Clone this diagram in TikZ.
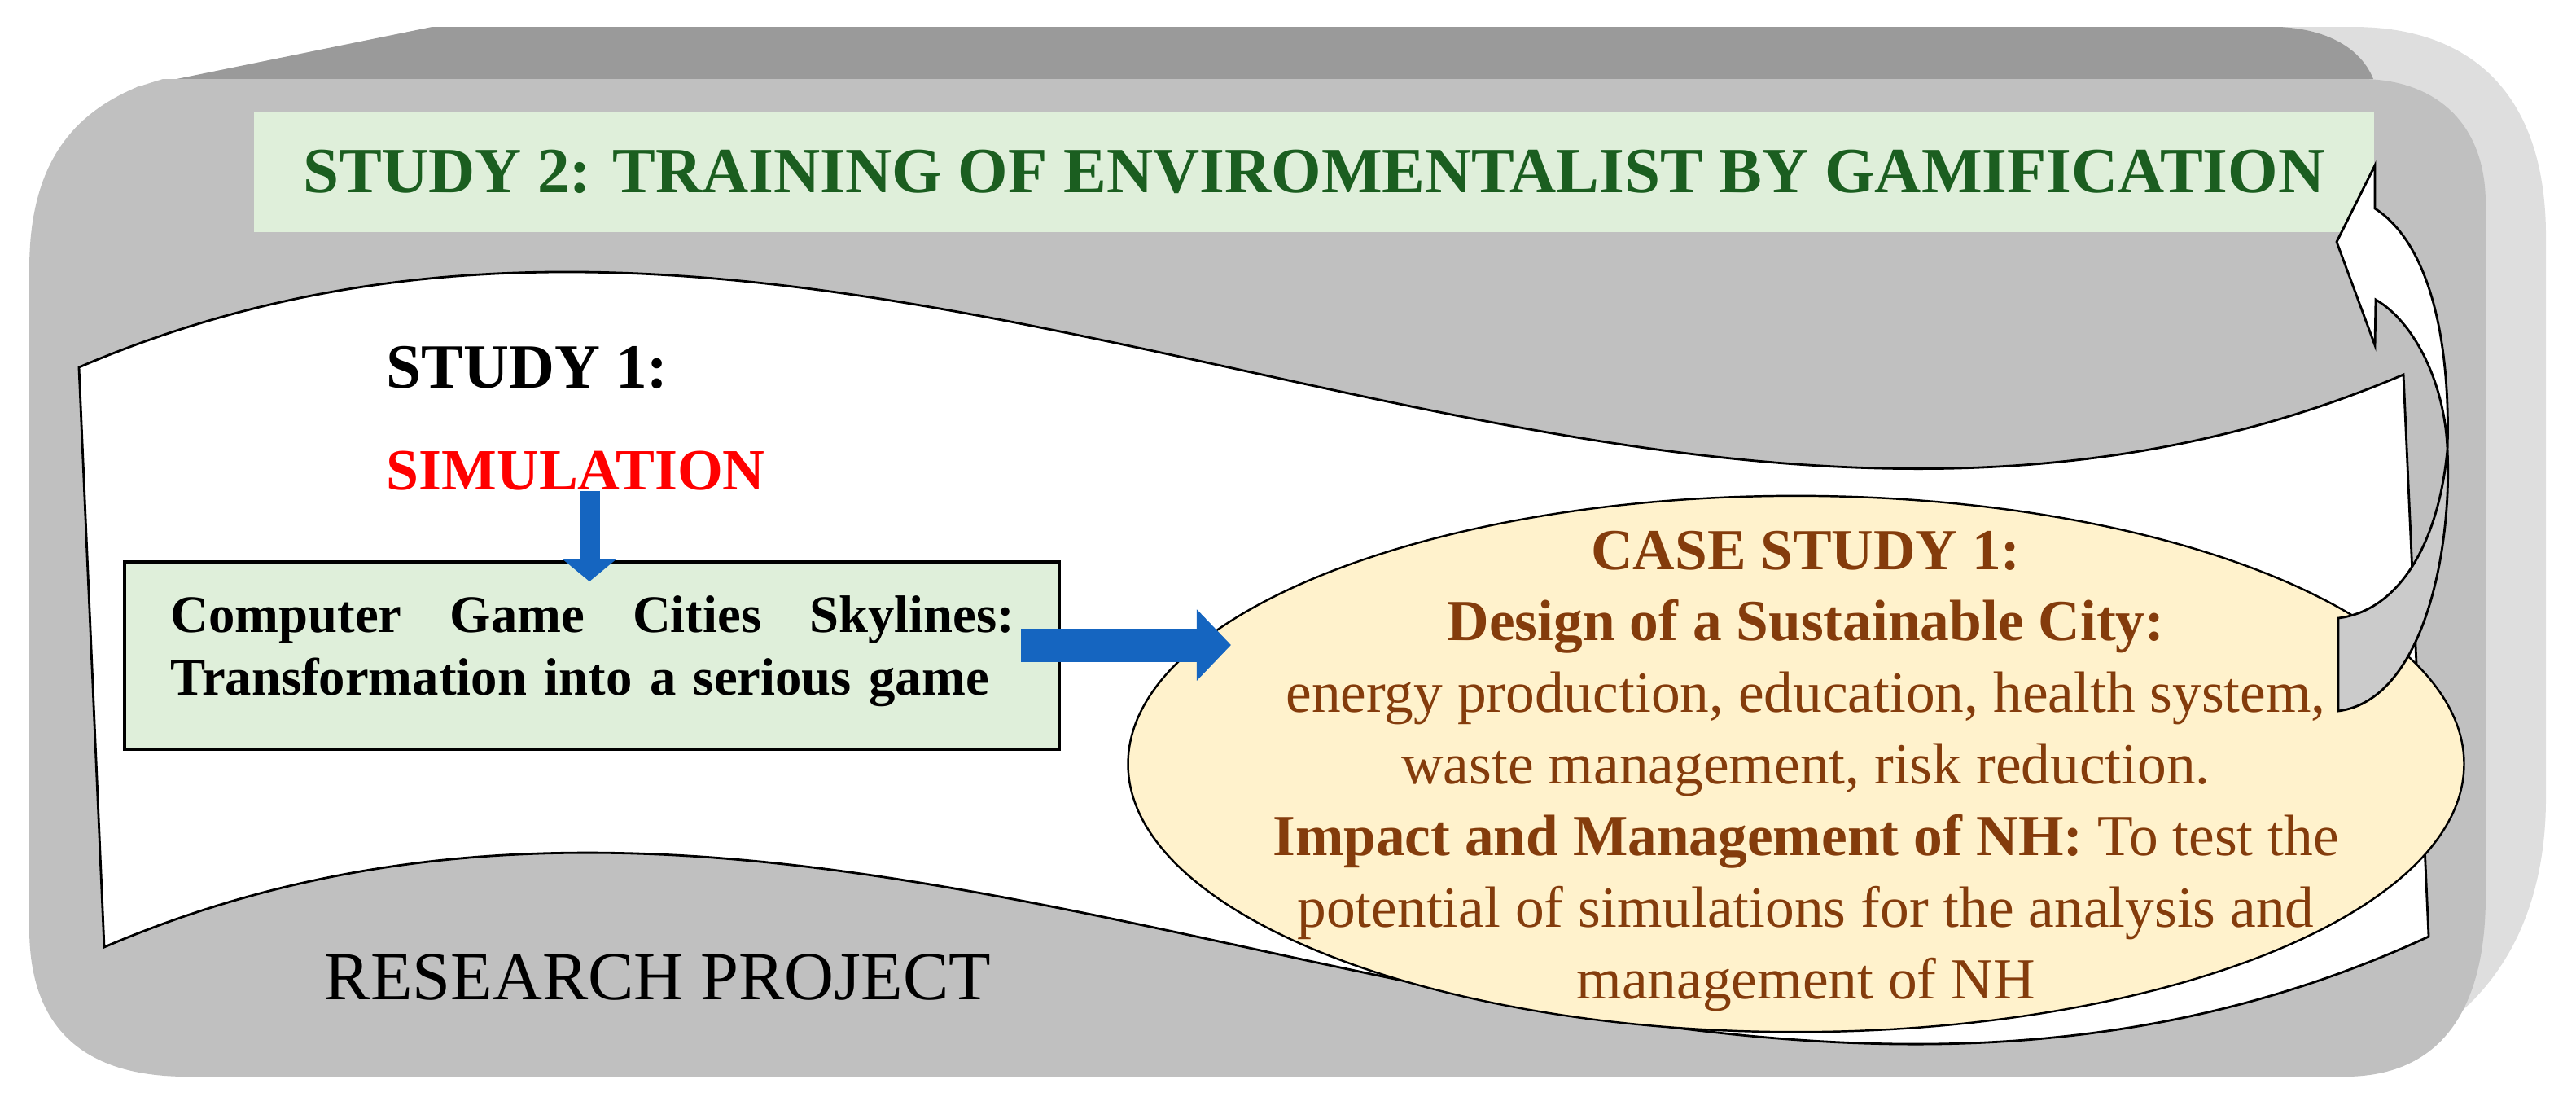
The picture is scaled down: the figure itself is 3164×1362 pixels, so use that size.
\documentclass[tikz,border=0pt]{standalone}
\usepackage{fontspec}
\setmainfont{Liberation Serif}
\usetikzlibrary{positioning,arrows.meta,shapes.geometric}

\definecolor{bodygray}{HTML}{C0C0C0}
\definecolor{topgray}{HTML}{9A9A9A}
\definecolor{sidegray}{HTML}{DEDEDE}
\definecolor{backband}{HTML}{CBCBCB}
\definecolor{bandgreen}{HTML}{DFEFDA}
\definecolor{titlegreen}{HTML}{1B5E20}
\definecolor{casefill}{HTML}{FFF2CC}
\definecolor{casebrown}{HTML}{843C0C}
\definecolor{arrowblue}{HTML}{1565C0}
\definecolor{simred}{HTML}{FF0000}

\begin{document}
\begin{tikzpicture}[x=0.01cm,y=-0.01cm,
    outline/.style={draw=black,line width=0.8pt},
    titleband/.style={fill=bandgreen,minimum width=26.03cm,minimum height=1.47cm,inner sep=0pt,
      text=titlegreen,font=\fontsize{22.5}{27}\selectfont\bfseries},
    gamebox/.style={draw=black,line width=1.1pt,fill=bandgreen,minimum width=11.48cm,
      minimum height=2.30cm,inner sep=0pt},
    gametext/.style={text width=10.36cm,align=left,inner sep=0pt,
      font=\fontsize{18.4}{21.9}\selectfont\bfseries},
    casebox/.style={ellipse,draw=black,line width=0.7pt,fill=casefill,minimum width=16.4cm,
      minimum height=6.58cm,inner sep=0pt},
    casetext/.style={text=casebrown,align=center,inner sep=0pt,font=\fontsize{20.3}{25}\selectfont},
    bluearrow/.style={arrowblue,line width=0.25cm,-{Triangle[length=0.28cm,width=0.66cm]}},
    bigarrow/.style={arrowblue,line width=0.41cm,-{Triangle[length=0.42cm,width=0.85cm]}},
  ]
  \useasboundingbox (0,0) rectangle (3164,1362);

  % Box: side, top and front faces
  \fill[sidegray] (531,33) -- (2890,33) .. controls (3040,33) and (3127,120) .. (3127,290)
    -- (3127,980) .. controls (3127,1190) and (3000,1322) .. (2780,1322) -- (220,1322) -- (168,107) -- cycle;
  \fill[topgray] (168,107) -- (531,33) -- (2800,33) .. controls (2860,36) and (2900,60) .. (2915,97) -- cycle;
  \fill[bodygray] (168,107) .. controls (90,140) and (36,200) .. (36,330) -- (36,1140)
    .. controls (36,1260) and (100,1322) .. (230,1322) -- (2880,1322)
    .. controls (2990,1322) and (3053,1250) .. (3053,1100) -- (3053,250)
    .. controls (3053,150) and (2990,97) .. (2900,97) -- (200,97) -- cycle;

  % Study 2
  \node[titleband] (study2) at (1614,211) {STUDY 2: TRAINING OF ENVIROMENTALIST BY GAMIFICATION};

  % Banner
  \draw[outline,fill=white] (97,451) .. controls (1049,43) and (2000,865) .. (2952,460)
    -- (2983,1150) .. controls (2030,1590) and (1080,755) .. (128,1163) -- cycle;

  % Study 1
  \node[anchor=west,inner sep=0pt,font=\fontsize{22}{26}\selectfont\bfseries] (study1) at (474,451) {STUDY 1:};
  \node[anchor=west,inner sep=0pt,text=simred,font=\fontsize{20.4}{24}\selectfont\bfseries] (sim) at (474,578) {SIMULATION};

  \node[gamebox] (game) at (727,805) {};
  \node[gametext,anchor=north west] (gametxt) at (209,731)
    {Computer\hfill Game\hfill Cities\hfill Skylines:\\Transformation into a serious game};

  \coordinate (simtip) at (724,714);
  \draw[bluearrow] (simtip |- sim.south) -- (simtip);

  % Case study
  \node[casebox] (case) at (2206,938) {};
  \node[casetext,anchor=north] (casetxt) at (2218,651)
    {\textbf{CASE STUDY 1:}\\
     \textbf{Design of a Sustainable City:}\\
     energy production, education, health system,\\
     waste management, risk reduction.\\
     \textbf{Impact and Management of NH:} To test the\\
     potential of simulations for the analysis and\\
     management of NH};

  \coordinate (casetip) at (1512,792);
  \draw[bigarrow] ([xshift=-0.49cm]game.east |- casetip) -- (casetip);

  % Curved arrow back to study 2
  \coordinate (headtip) at (2917,203);
  \coordinate (mid) at (3006,552);
  \filldraw[outline,fill=backband] (2872,759) .. controls (2945,750) and (2995,670) .. (mid)
    .. controls (3012,680) and (2975,860) .. (2872,873) -- cycle;
  \filldraw[outline,fill=white] (headtip) -- (2870,297) -- (2917,424) -- (2918,368)
    .. controls (2965,395) and (3003,470) .. (mid)
    .. controls (3010,420) and (2985,300) .. (2917,256) -- cycle;

  \node[anchor=base west,inner sep=0pt,font=\fontsize{24}{28}\selectfont] (project) at (398,1227) {RESEARCH PROJECT};
\end{tikzpicture}
\end{document}
